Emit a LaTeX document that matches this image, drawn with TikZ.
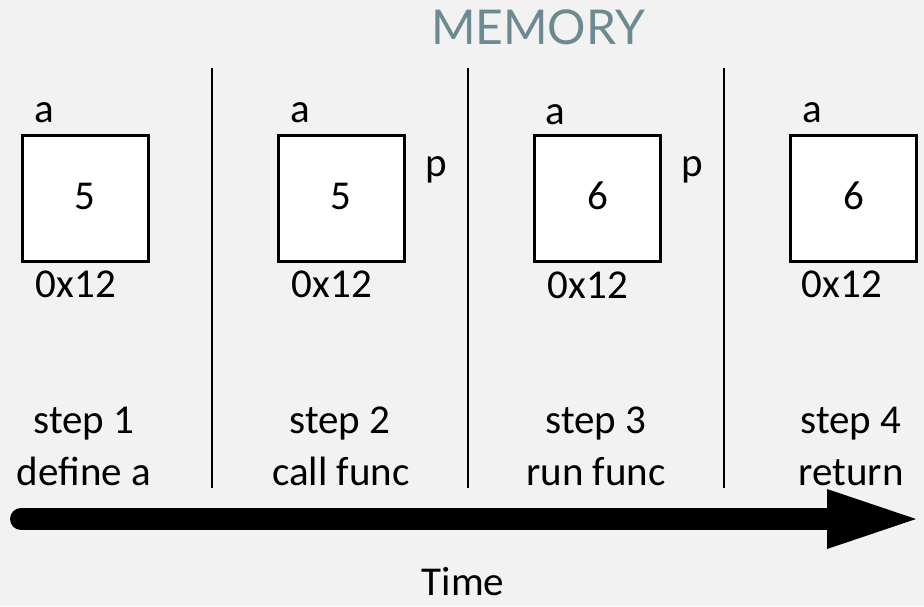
\documentclass[tikz,border=0pt]{standalone}
\usepackage{fontspec}
\setmainfont{Carlito}
\newfontfamily\titlefont{Lato}
\definecolor{bgcol}{HTML}{F2F2F2}
\definecolor{titlecol}{HTML}{6C8A92}
\tikzset{
  cell/.style={draw=black, line width=3pt, fill=white, minimum width=126pt, minimum height=126pt, inner sep=0pt, anchor=north west},
  lbl/.style={font=\fontsize{41}{41}\selectfont, anchor=base, inner sep=0pt},
  divider/.style={draw=black, line width=2pt},
}
\begin{document}
\begin{tikzpicture}[x=1pt, y=-1pt]
  \fill[bgcol] (0,0) rectangle (924,606);
  \useasboundingbox (0,0) rectangle (924,606);

  % heading
  \node[font=\titlefont\fontsize{48}{48}\selectfont, text=titlecol, anchor=base, inner sep=0pt] (title) at (538,44) {MEMORY};

  % dividers between the steps
  \foreach \x/\n in {212/d1, 468/d2, 724/d3} {
    \coordinate (\n top) at (\x,68);
    \coordinate (\n bot) at (\x,488);
    \draw[divider] (\n top) -- (\n bot);
  }

  % step 1
  \node[cell] (box1) at (20.5,133.5) {};
  \node[lbl] (v1) at (box1.center |- 0,209) {5};
  \node[lbl] (a1) at (44,122) {a};
  \node[lbl] (m1) at (76,297) {0x12};
  \node[lbl] (s1) at (84,433) {step 1};
  \node[lbl] (t1) at (84,485) {define a};

  % step 2
  \node[cell] (box2) at (276.5,133.5) {};
  \node[lbl] (v2) at (box2.center |- 0,209) {5};
  \node[lbl] (a2) at (300,122) {a};
  \node[lbl] (p2) at (436,176) {p};
  \node[lbl] (m2) at (332,297) {0x12};
  \node[lbl] (s2) at (340,433) {step 2};
  \node[lbl] (t2) at (341,485) {call func};

  % step 3
  \node[cell] (box3) at (533,133.5) {};
  \node[lbl] (v3) at (box3.center |- 0,209) {6};
  \node[lbl] (a3) at (555,124) {a};
  \node[lbl] (p3) at (692,176) {p};
  \node[lbl] (m3) at (588,298) {0x12};
  \node[lbl] (s3) at (596,433) {step 3};
  \node[lbl] (t3) at (596,485) {run func};

  % step 4
  \node[cell] (box4) at (789,133.5) {};
  \node[lbl] (v4) at (box4.center |- 0,209) {6};
  \node[lbl] (a4) at (812,122) {a};
  \node[lbl] (m4) at (842,297) {0x12};
  \node[lbl] (s4) at (851,433) {step 4};
  \node[lbl] (t4) at (851,485) {return};

  % time axis
  \coordinate (tstart) at (21,519);
  \coordinate (tbase) at (827,519);
  \coordinate (ttip) at (916,519);
  \draw[line width=22pt, line cap=round] (tstart) -- (tbase);
  \fill[black] ([yshift=-30pt]tbase) -- (ttip) -- ([yshift=30pt]tbase) -- cycle;
  \node[lbl] (time) at (463,595) {Time};
\end{tikzpicture}
\end{document}
